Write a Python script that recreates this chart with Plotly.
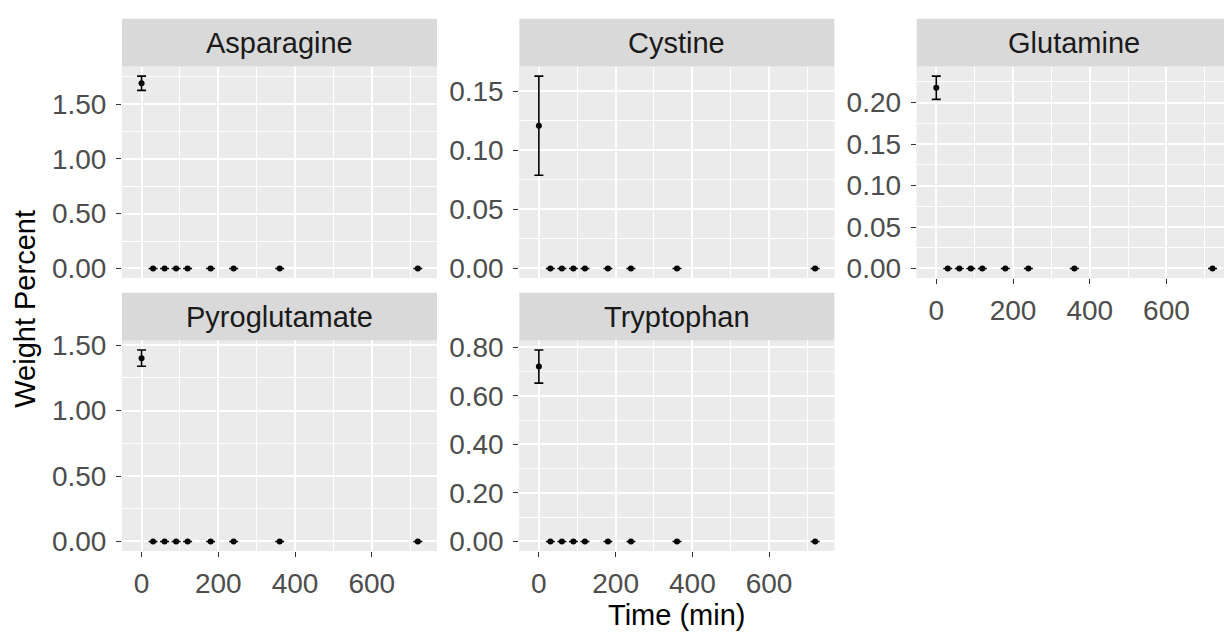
import plotly.graph_objects as go

# Sampling times (minutes)
time_min = [0, 30, 60, 90, 120, 180, 240, 360, 720]

# Amino acids shown, one facet each
amino_acids = ["Asparagine", "Cystine", "Glutamine", "Pyroglutamate", "Tryptophan"]

# Mean weight percent at each time point
asparagine_mean = [1.69, 0, 0, 0, 0, 0, 0, 0, 0]
cystine_mean = [0.121, 0, 0, 0, 0, 0, 0, 0, 0]
glutamine_mean = [0.218, 0, 0, 0, 0, 0, 0, 0, 0]
pyroglutamate_mean = [1.40, 0, 0, 0, 0, 0, 0, 0, 0]
tryptophan_mean = [0.72, 0, 0, 0, 0, 0, 0, 0, 0]

# Standard deviation at each time point
asparagine_sd = [0.065, 0, 0, 0, 0, 0, 0, 0, 0]
cystine_sd = [0.042, 0, 0, 0, 0, 0, 0, 0, 0]
glutamine_sd = [0.014, 0, 0, 0, 0, 0, 0, 0, 0]
pyroglutamate_sd = [0.062, 0, 0, 0, 0, 0, 0, 0, 0]
tryptophan_sd = [0.068, 0, 0, 0, 0, 0, 0, 0, 0]

means = [asparagine_mean, cystine_mean, glutamine_mean, pyroglutamate_mean, tryptophan_mean]
sds = [asparagine_sd, cystine_sd, glutamine_sd, pyroglutamate_sd, tryptophan_sd]

# y tick spacing per facet
y_dtick = [0.5, 0.05, 0.05, 0.5, 0.2]

W, H = 1224, 636
FONT = "Liberation Sans, Arial, sans-serif"
PANEL_BG = "#EBEBEB"
STRIP_BG = "#D9D9D9"
TICK_SIZE = 28
STRIP_SIZE = 29
TITLE_SIZE = 29

# facet grid geometry in pixels
col_left = [122, 519.3, 916.7]
panel_w = 315
row_top = [58, 339]
panel_h = [217, 216]
strip_h = 49

# (row, col) for each facet, wrapped into three columns
facet_pos = [(0, 0), (0, 1), (0, 2), (1, 0), (1, 1)]
# facets that carry x-axis labels (bottom of their column)
x_labelled = {2, 3, 4}

x_full = [-51, 770]

fig = go.Figure()
shapes = []
annotations = []

for i, name in enumerate(amino_acids):
    r, c = facet_pos[i]
    ax = "" if i == 0 else str(i + 1)
    x0 = col_left[c]
    x1 = min(x0 + panel_w, W)
    y0 = row_top[r]
    y1 = y0 + panel_h[r]

    # x range; the right column is cut at the page edge
    frac = (x1 - x0) / panel_w
    xr = [x_full[0], x_full[0] + frac * (x_full[1] - x_full[0])]

    hi = max(m + s for m, s in zip(means[i], sds[i]))
    lo = min(min(m - s for m, s in zip(means[i], sds[i])), 0)
    pad = 0.05 * (hi - lo)
    yr = [lo - pad, hi + pad]

    fig.add_trace(go.Scatter(
        x=time_min, y=means[i],
        mode="markers",
        marker=dict(color="black", size=6),
        error_y=dict(type="data", array=sds[i], color="black",
                     thickness=1.6, width=4.5),
        xaxis="x" + ax, yaxis="y" + ax,
        showlegend=False, hoverinfo="x+y",
    ))

    show_x = i in x_labelled
    fig.layout["xaxis" + ax] = dict(
        domain=[x0 / W, x1 / W], range=xr, anchor="y" + ax,
        tickvals=[0, 200, 400, 600],
        showticklabels=show_x, ticks="outside" if show_x else "",
        ticklen=5, tickwidth=1.2, tickcolor="#333333",
        tickfont=dict(family=FONT, size=TICK_SIZE, color="#4D4D4D"),
        ticklabelstandoff=2,
        showgrid=True, gridcolor="white", gridwidth=1.8,
        minor=dict(tickvals=[100, 300, 500, 700], showgrid=True,
                   gridcolor="white", gridwidth=1.0),
        zeroline=False, showline=False, fixedrange=True,
    )
    fig.layout["yaxis" + ax] = dict(
        domain=[1 - y1 / H, 1 - y0 / H], range=yr, anchor="x" + ax,
        dtick=y_dtick[i], tick0=0, tickformat=".2f",
        ticks="outside", ticklen=5, tickwidth=1.2, tickcolor="#333333",
        tickfont=dict(family=FONT, size=TICK_SIZE, color="#4D4D4D"),
        ticklabelstandoff=4,
        showgrid=True, gridcolor="white", gridwidth=1.8,
        minor=dict(dtick=y_dtick[i] / 2, tick0=0, showgrid=True,
                   gridcolor="white", gridwidth=1.0),
        zeroline=False, showline=False, fixedrange=True,
    )

    # panel background
    shapes.append(dict(type="rect", xref="paper", yref="paper",
                       x0=x0 / W, x1=x1 / W, y0=1 - y1 / H, y1=1 - y0 / H,
                       fillcolor=PANEL_BG, line=dict(width=0), layer="below"))
    # facet strip
    shapes.append(dict(type="rect", xref="paper", yref="paper",
                       x0=x0 / W, x1=x1 / W,
                       y0=1 - y0 / H, y1=1 - (y0 - strip_h) / H,
                       fillcolor=STRIP_BG, line=dict(width=0), layer="below"))
    annotations.append(dict(
        text=name, xref="paper", yref="paper",
        x=(x0 + panel_w / 2) / W, y=1 - (y0 - strip_h / 2) / H,
        xanchor="center", yanchor="middle", showarrow=False,
        font=dict(family=FONT, size=STRIP_SIZE, color="#1A1A1A"),
    ))

# shared axis titles
annotations.append(dict(
    text="Time (min)", xref="paper", yref="paper",
    x=(col_left[0] + col_left[2] + panel_w) / 2 / W, y=0,
    xanchor="center", yanchor="bottom", yshift=-3, showarrow=False,
    font=dict(family=FONT, size=TITLE_SIZE, color="black"),
))
annotations.append(dict(
    text="Weight Percent", xref="paper", yref="paper",
    x=25 / W, y=1 - ((row_top[0] + row_top[1] + panel_h[1]) / 2) / H,
    xanchor="center", yanchor="middle", textangle=-90, showarrow=False,
    font=dict(family=FONT, size=TITLE_SIZE, color="black"),
))

fig.update_layout(
    width=W, height=H,
    margin=dict(l=0, r=0, t=0, b=0),
    paper_bgcolor="white", plot_bgcolor=PANEL_BG,
    shapes=shapes, annotations=annotations,
)

fig.write_html("out.html")
